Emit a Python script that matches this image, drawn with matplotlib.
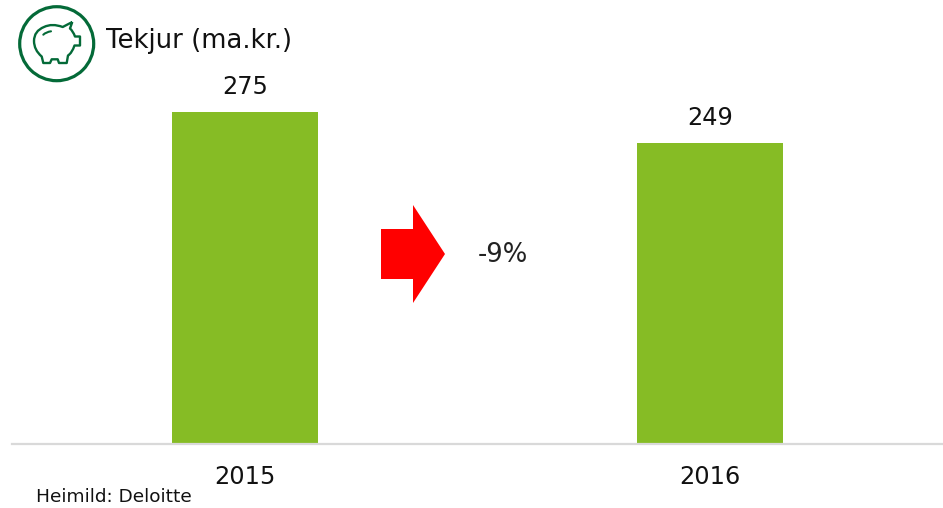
import matplotlib
matplotlib.use('Agg')
import matplotlib.pyplot as plt
from matplotlib.patches import Circle, Polygon, PathPatch
from matplotlib.path import Path

years = ['2015', '2016']
tekjur = [275, 249]
title = 'Tekjur (ma.kr.)'
change = '-9%'
source = 'Heimild: Deloitte'

GREEN = '#86BC25'
DARK = '#046A38'
W, H = 943, 508

plt.rcParams['font.family'] = ['DejaVu Sans']
fig = plt.figure(figsize=(W / 100, H / 100), dpi=100)

# chart area, baseline at y=444px
ax = fig.add_axes([12 / W, (H - 444) / H, 931 / W, 444 / H])
ax.bar(years, tekjur, width=0.314, color=GREEN)
ax.set_xlim(-0.5, 1.5)
ax.set_ylim(0, 367.8)
for i, v in enumerate(tekjur):
    ax.annotate(str(v), (i, v), xytext=(0, 13), textcoords='offset pixels',
                ha='center', va='bottom', fontsize=17.3, color='#111111')
for s in ['top', 'left', 'right']:
    ax.spines[s].set_visible(False)
ax.spines['bottom'].set_color('#D9D9D9')
ax.spines['bottom'].set_linewidth(1.6)
ax.set_yticks([])
ax.tick_params(axis='x', length=0, pad=15, labelsize=17.3, labelcolor='#111111')

# overlay in pixel coordinates for the arrow and the icon
ov = fig.add_axes([0, 0, 1, 1], facecolor='none')
ov.set_xlim(0, W)
ov.set_ylim(H, 0)
ov.axis('off')

ov.add_patch(Polygon([(381, 229), (413, 229), (413, 205), (445, 254),
                      (413, 303), (413, 279), (381, 279)], color='#FF0000', lw=0))
ov.text(478, 255, change, fontsize=18.6, color='#222222', va='center', ha='left')
ov.text(106, 41, title, fontsize=18.6, color='#111111', va='center', ha='left')
ov.text(36, 497, source, fontsize=13.3, color='#111111', va='center', ha='left')

# piggy bank icon
ov.add_patch(Circle((56.7, 43.7), 37, fill=False, ec=DARK, lw=2.3))
M, L, C = Path.MOVETO, Path.LINETO, Path.CURVE3
pig = [(M, (72.3, 22)), (L, (62.7, 27)),
       (C, (52, 23)), (C, (44, 27)),
       (C, (34, 31)), (C, (34, 41)),
       (C, (34, 50)), (C, (41.7, 56.5)),
       (L, (43.3, 63)), (L, (50, 63)), (L, (51.7, 59.3)), (L, (57.7, 59.3)),
       (L, (59, 63)), (L, (66.7, 63)), (L, (68, 55.5)),
       (C, (72, 53)), (C, (74.5, 45.5)),
       (L, (80, 45.5)), (L, (80, 36.5)), (L, (75, 36.5)),
       (C, (73, 31)), (C, (70, 28.5)),
       (L, (72.3, 22))]
ov.add_patch(PathPatch(Path([p[1] for p in pig], [p[0] for p in pig]),
                       fill=False, ec=DARK, lw=1.7, joinstyle='round'))
ov.add_patch(PathPatch(Path([(43.3, 34.7), (46, 32), (51, 31.3)], [M, C, C]),
                       fill=False, ec=DARK, lw=1.5, capstyle='round'))

fig.savefig('out.png', dpi=100)
